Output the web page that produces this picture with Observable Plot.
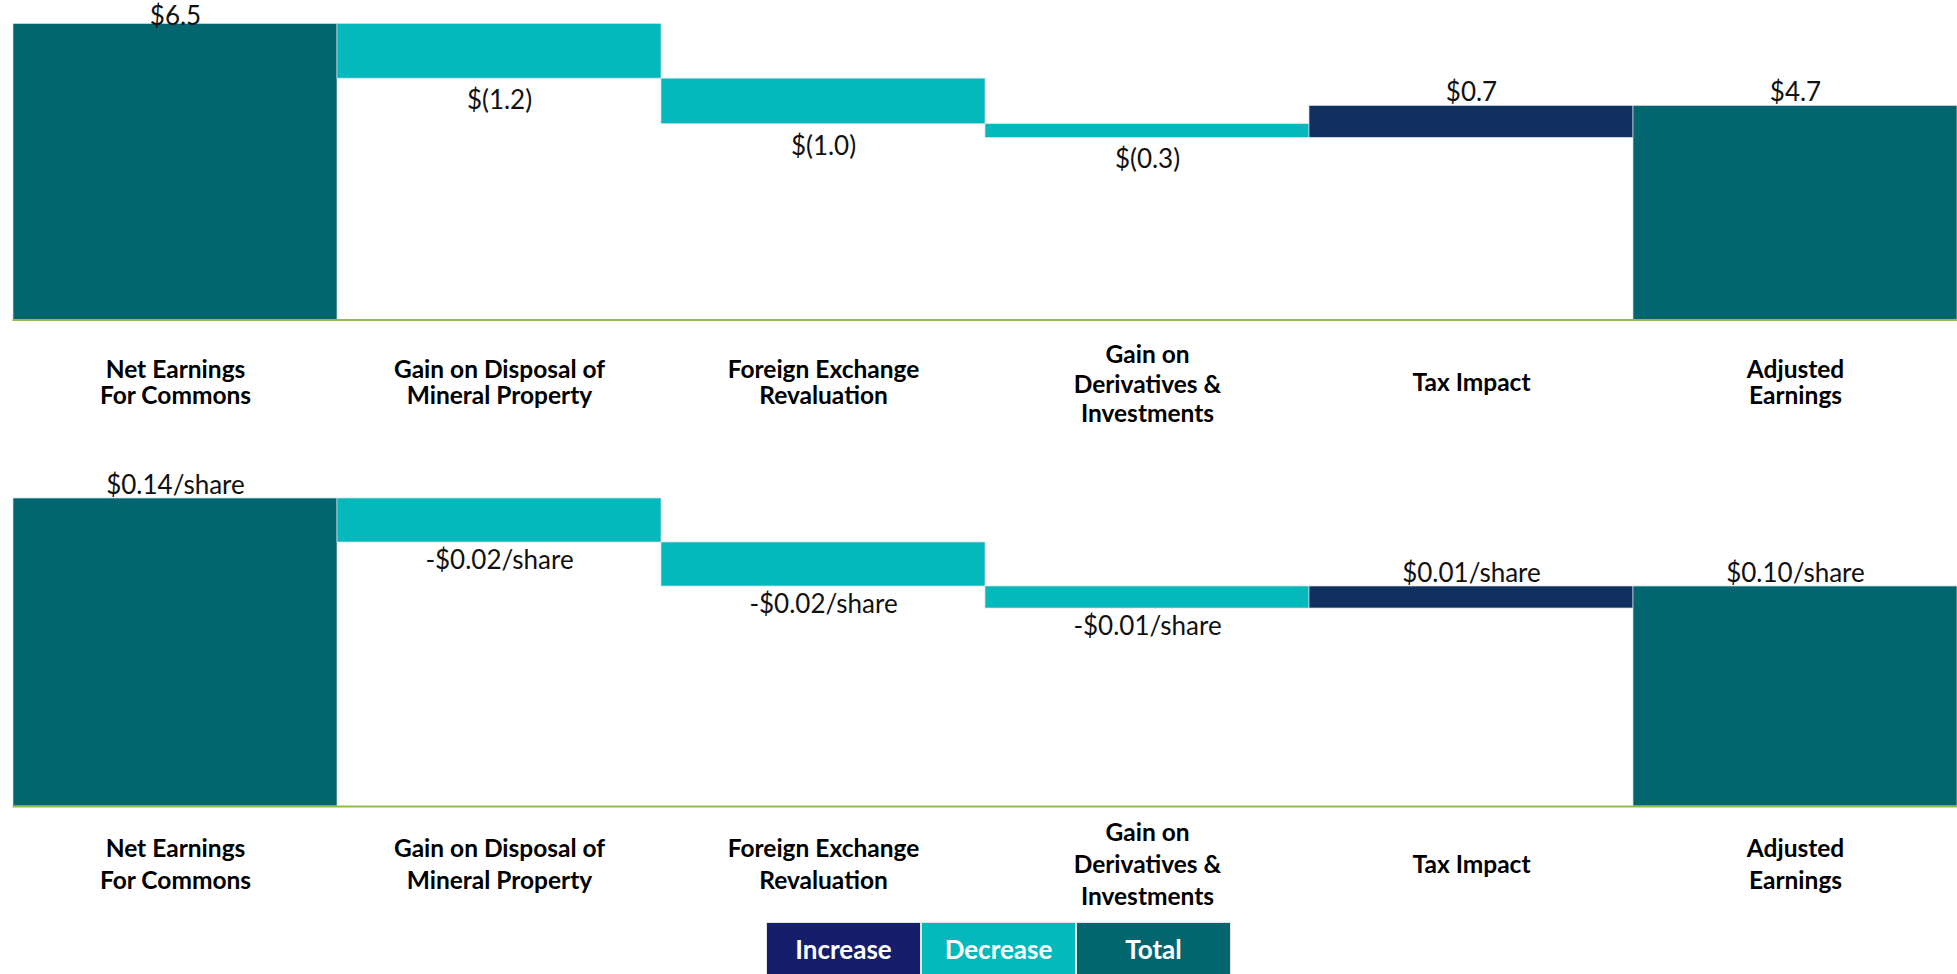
<!DOCTYPE html>
<html><head><meta charset="utf-8">
<script src="https://cdn.jsdelivr.net/npm/d3@7"></script>
<script src="https://cdn.jsdelivr.net/npm/@observablehq/plot@0.6"></script>
<style>
html,body{margin:0;padding:0;background:#fff;width:1957px;height:974px;overflow:hidden;font-family:Lato,sans-serif;}
#top,#bottom{position:absolute;left:0;}
#top{top:0}
#bottom{top:470px}
#legend{position:absolute;left:766px;top:922px;display:flex;gap:2px;padding:1px;background:#e4e4e4;}
#legend div{width:153px;height:52px;color:#fff;font-weight:bold;font-size:26px;display:flex;align-items:center;justify-content:center;font-family:Lato,sans-serif;}
</style></head>
<body>
<div id="top"></div><div id="bottom"></div>
<div id="legend"></div>
<script>
// ---- data ----
const categories = [
  "Net Earnings\nFor Commons",
  "Gain on Disposal of\nMineral Property",
  "Foreign Exchange\nRevaluation",
  "Gain on\nDerivatives &\nInvestments",
  "Tax Impact",
  "Adjusted\nEarnings"
];
const kinds = ["Total", "Decrease", "Decrease", "Decrease", "Increase", "Total"];
const earnings = [6.5, -1.2, -1.0, -0.3, 0.7, 4.7];
const earningsLabels = ["$6.5", "$(1.2)", "$(1.0)", "$(0.3)", "$0.7", "$4.7"];
const perShare = [0.14, -0.02, -0.02, -0.01, 0.01, 0.10];
const perShareLabels = ["$0.14/share", "-$0.02/share", "-$0.02/share", "-$0.01/share", "$0.01/share", "$0.10/share"];
const colorKinds = ["Increase", "Decrease", "Total"];
const barColors = ["#10305f", "#03b9bc", "#03666f"];
const legendColors = ["#141e6b", "#03b9bc", "#03666f"];

function waterfall(values, labels, o) {
  let run = 0;
  const rows = categories.map((c, i) => {
    const k = kinds[i], v = values[i];
    let y1, y2;
    if (k === "Total") { y1 = 0; y2 = v; run = v; }
    else { y1 = run; y2 = run + v; run += v; }
    return {cat: c, kind: k, y1, y2, top: Math.max(y1, y2), bottom: Math.min(y1, y2), label: labels[i], n: c.split("\n").length};
  });
  const yMax = d3.max(rows, d => d.top);
  const above = rows.filter(d => d.kind !== "Decrease");
  const isPeak = d => o.clampTop && d.top === yMax;
  return Plot.plot({
    width: 1957, height: o.height, marginTop: o.marginTop, marginBottom: o.marginBottom,
    marginLeft: 12.5, marginRight: 0,
    x: {domain: categories, padding: 0, axis: null},
    y: {domain: [0, yMax], axis: null},
    color: {domain: colorKinds, range: barColors},
    style: {fontFamily: "Lato, sans-serif", background: "white", overflow: "visible"},
    marks: [
      Plot.barY(rows, {x: "cat", y1: "y1", y2: "y2", fill: "kind", stroke: "#d4dde6", strokeWidth: 0.7}),
      Plot.ruleY([0], {stroke: "#8fbc4e", strokeWidth: 2}),
      Plot.text(above.filter(d => !isPeak(d)), {x: "cat", y: "top", text: "label", lineAnchor: "bottom", dy: -5, fontSize: 26, fill: "#111"}),
      Plot.text(above.filter(d => isPeak(d)), {x: "cat", y: "top", text: "label", lineAnchor: "bottom", dy: 1, fontSize: 26, fill: "#111"}),
      Plot.text(rows.filter(d => d.kind === "Decrease"), {x: "cat", y: "bottom", text: "label", lineAnchor: "top", dy: o.belowDy, fontSize: 26, fill: "#111"}),
      Plot.text(rows.filter(d => d.n < 3), {x: "cat", y: 0, text: "cat", lineAnchor: "middle", dy: o.catDy, fontSize: 24.5, fontWeight: "bold", lineHeight: o.lh2, fill: "#000"}),
      Plot.text(rows.filter(d => d.n >= 3), {x: "cat", y: 0, text: "cat", lineAnchor: "middle", dy: o.catDy, fontSize: 24.5, fontWeight: "bold", lineHeight: o.lh3, fill: "#000"})
    ]
  });
}

document.getElementById("top").append(waterfall(earnings, earningsLabels,
  {height: 470, marginTop: 23.5, marginBottom: 150.5, belowDy: 12, catDy: 63, lh2: 1.06, lh3: 1.22, clampTop: true}));
document.getElementById("bottom").append(waterfall(perShare, perShareLabels,
  {height: 450, marginTop: 28, marginBottom: 114, belowDy: 8, catDy: 56, lh2: 1.3, lh3: 1.3, clampTop: false}));

const legend = document.getElementById("legend");
colorKinds.forEach((k, i) => {
  const d = document.createElement("div");
  d.textContent = k;
  d.style.background = legendColors[i];
  legend.append(d);
});
</script>
</body></html>
